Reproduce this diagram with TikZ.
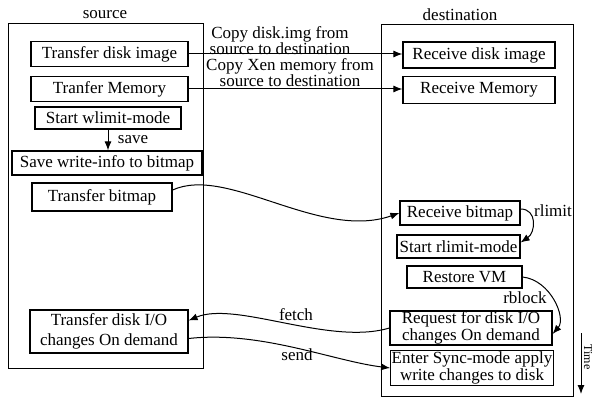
\documentclass[tikz,border=0pt]{standalone}
\usepackage{fontspec}
\setmainfont{Liberation Serif}
\usetikzlibrary{arrows.meta}

\tikzset{
  hostbox/.style={rectangle,draw,line width=1pt,inner sep=0pt},
  proc/.style={rectangle,draw,line width=1.2pt,inner sep=1pt,align=center,font=\fontsize{17}{17}\selectfont},
  lbl/.style={inner sep=0pt,align=center,font=\fontsize{17}{16}\selectfont},
  arr/.style={-{Latex[length=9pt,width=7pt]},line width=1pt},
}

\begin{document}
\begin{tikzpicture}[x=1pt,y=-1pt]
\useasboundingbox (0,0) rectangle (594,398);
% the two hosts
\node[hostbox,minimum width=195pt,minimum height=344pt] (src) at (105.5,196) {};
\node[lbl] (srcname) at (105,15) {source};
\node[hostbox,minimum width=192pt,minimum height=372pt] (dst) at (477,210.5) {};
\node[lbl] (dstname) at (460,15) {destination};
% source side
\node[proc,minimum width=157pt,minimum height=25pt] (s1) at (109.5,54) {Transfer disk image};
\node[proc,minimum width=157pt,minimum height=25pt] (s2) at (109.5,89) {Tranfer Memory};
\node[proc,minimum width=146pt,minimum height=22pt] (s3) at (108,118) {Start wlimit-mode};
\node[proc,minimum width=190pt,minimum height=24pt] (s4) at (107,163) {Save write-info to bitmap};
\node[proc,minimum width=140pt,minimum height=28pt] (s5) at (102,197) {Transfer bitmap};
\node[proc,minimum width=158pt,minimum height=43pt] (s6) at (109,331.5) {Transfer disk I/O\\[3pt]changes On demand};
% destination side
\node[proc,minimum width=152pt,minimum height=26pt] (d1) at (479,55) {Receive disk image};
\node[proc,minimum width=152pt,minimum height=27pt] (d2) at (479,90) {Receive Memory};
\node[proc,minimum width=120pt,minimum height=24pt] (d3) at (460,213) {Receive bitmap};
\node[proc,minimum width=123pt,minimum height=23pt] (d4) at (458.5,246.5) {Start rlimit-mode};
\node[proc,minimum width=115pt,minimum height=22pt] (d5) at (464.5,277) {Restore VM};
\node[proc,minimum width=162pt,minimum height=34pt,font=\fontsize{17}{15}\selectfont] (d6) at (471,328) {Request for disk I/O\\changes On demand};
\node[proc,minimum width=160pt,minimum height=31pt] (d7) at (472,368) {Enter Sync-mode apply\\write changes to disk};
% labels
\node[lbl] (ldisk) at (280,41) {Copy disk.img from\\source to destination};
\node[lbl] (lmem) at (290,72.5) {Copy Xen memory from\\source to destination};
\node[lbl] (lsave) at (133,140) {save};
\node[lbl] (lrlimit) at (553,211) {rlimit};
\node[lbl] (lrblock) at (525,298) {rblock};
\node[lbl] (lfetch) at (296,315) {fetch};
\node[lbl] (lsend) at (297,355) {send};
% connectors
\draw[arr] (s1.east) -- (s1.east -| d1.west);
\draw[arr] (s2.east) -- (s2.east -| d2.west);
\draw[arr] (s3.south) -- (s3.south |- s4.north);
\draw[arr] ([yshift=7pt]s5.east) .. controls +(55,-25) and +(-80,28) .. (d3.west);
\draw[arr] ([yshift=4pt]d3.east) .. controls +(17,0) and +(15,-10) .. ([yshift=4pt]d4.east);
\draw[arr] (d5.east) .. controls +(28,3) and +(14,-16) .. ([yshift=-6pt]d6.east);
\draw[arr] (d6.west) .. controls +(-60,18) and +(47,-20) .. ([yshift=11pt]s6.east);
\draw[arr] ([yshift=-7pt]s6.east) .. controls +(72,-8) and +(-57,-7) .. (d7.west);
% time axis
\coordinate (t0) at (581,333);
\coordinate (t1) at (581,394);
\draw[arr] (t0) -- (t1);
\node[rotate=-90,inner sep=0pt,font=\fontsize{12}{12}\selectfont] (ltime) at (588,357) {Time};
\end{tikzpicture}
\end{document}
